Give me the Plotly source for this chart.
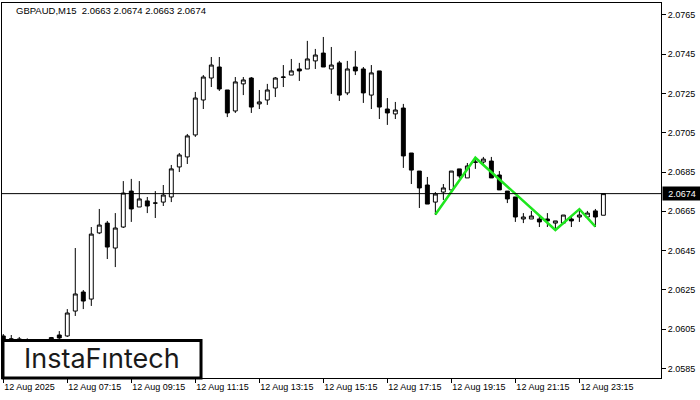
import pandas as pd
import plotly.graph_objects as go

symbol_title = "GBPAUD,M15  2.0663 2.0674 2.0663 2.0674"
start_time = "2025-08-12 05:15"

opens = [2.06015, 2.06000, 2.06000, 2.05995, 2.05990, 2.05985, 2.05994, 2.06020, 2.06015, 2.06142,
         2.06239, 2.06203, 2.06540, 2.06590, 2.06463, 2.06570, 2.06753, 2.06672, 2.06703, 2.06692,
         2.06697, 2.06723, 2.06876, 2.06927, 2.07039, 2.07217, 2.07329, 2.07385, 2.07268, 2.07161,
         2.07299, 2.07329, 2.07197, 2.07217, 2.07278, 2.07332, 2.07344, 2.07375, 2.07375, 2.07416,
         2.07456, 2.07375, 2.07406, 2.07253, 2.07385, 2.07375, 2.07242, 2.07365, 2.07171, 2.07146,
         2.07176, 2.06947, 2.06855, 2.06784, 2.06697, 2.06748, 2.06759, 2.06866, 2.06820, 2.06899,
         2.06901, 2.06906, 2.06835, 2.06753, 2.06723, 2.06611, 2.06611, 2.06611, 2.06611, 2.06590,
         2.06590, 2.06611, 2.06621, 2.06621, 2.06652, 2.0663]
highs = [2.06025, 2.06020, 2.06010, 2.06003, 2.05998, 2.05995, 2.06010, 2.06040, 2.06152, 2.06463,
         2.06249, 2.06570, 2.06662, 2.06601, 2.06641, 2.06804, 2.06815, 2.06804, 2.06723, 2.06753,
         2.06784, 2.06886, 2.06947, 2.07044, 2.07258, 2.07344, 2.07436, 2.07436, 2.07268, 2.07334,
         2.07334, 2.07334, 2.07268, 2.07299, 2.07334, 2.07395, 2.07426, 2.07406, 2.07518, 2.07477,
         2.07538, 2.07487, 2.07416, 2.07416, 2.07467, 2.07385, 2.07395, 2.07365, 2.07227, 2.07207,
         2.07197, 2.06947, 2.06855, 2.06825, 2.06748, 2.06789, 2.06855, 2.06866, 2.06896, 2.06922,
         2.06927, 2.06927, 2.06855, 2.06753, 2.06723, 2.06641, 2.06652, 2.06631, 2.06641, 2.06601,
         2.06631, 2.06621, 2.06652, 2.06652, 2.06662, 2.0674]
lows = [2.05989, 2.05989, 2.05989, 2.05980, 2.05978, 2.05975, 2.05989, 2.05994, 2.06010, 2.06117,
        2.06152, 2.06168, 2.06534, 2.06407, 2.06366, 2.06565, 2.06596, 2.06672, 2.06641, 2.06616,
        2.06677, 2.06697, 2.06850, 2.06891, 2.07029, 2.07171, 2.07283, 2.07263, 2.07130, 2.07151,
        2.07242, 2.07151, 2.07171, 2.07192, 2.07232, 2.07283, 2.07344, 2.07314, 2.07375, 2.07375,
        2.07385, 2.07248, 2.07212, 2.07242, 2.07344, 2.07202, 2.07171, 2.07120, 2.07090, 2.07120,
        2.06871, 2.06789, 2.06667, 2.06687, 2.06631, 2.06708, 2.06759, 2.06820, 2.06820, 2.06866,
        2.06881, 2.06820, 2.06759, 2.06692, 2.06596, 2.06590, 2.06611, 2.06570, 2.06570, 2.06560,
        2.06585, 2.06570, 2.06596, 2.06616, 2.06570, 2.0663]
closes = [2.05994, 2.05999, 2.05997, 2.05990, 2.05985, 2.05992, 2.06007, 2.06005, 2.06132, 2.06229,
          2.06193, 2.06534, 2.06580, 2.06468, 2.06565, 2.06743, 2.06662, 2.06713, 2.06677, 2.06692,
          2.06733, 2.06866, 2.06937, 2.07034, 2.07227, 2.07334, 2.07395, 2.07273, 2.07151, 2.07309,
          2.07319, 2.07181, 2.07207, 2.07268, 2.07329, 2.07334, 2.07365, 2.07365, 2.07426, 2.07446,
          2.07385, 2.07395, 2.07242, 2.07375, 2.07365, 2.07253, 2.07355, 2.07181, 2.07151, 2.07166,
          2.06932, 2.06860, 2.06769, 2.06687, 2.06738, 2.06769, 2.06855, 2.06830, 2.06881, 2.06901,
          2.06916, 2.06820, 2.06759, 2.06713, 2.06621, 2.06621, 2.06626, 2.06596, 2.06601, 2.06601,
          2.06631, 2.06601, 2.06631, 2.06641, 2.06621, 2.0674]

# pattern (green zigzag): bar indices and prices
pattern_bars = [54, 59, 69, 72, 74]
pattern_prices = [2.06634, 2.06923, 2.06555, 2.06661, 2.06572]

current_price = 2.0674
y_ticks = [2.0585, 2.0605, 2.0625, 2.0645, 2.0665, 2.0685, 2.0705, 2.0725, 2.0745, 2.0765]
x_tick_bars = [0, 8, 16, 24, 32, 40, 48, 56, 64, 72]
x_tick_labels = ["12 Aug 2025", "12 Aug 07:15", "12 Aug 09:15", "12 Aug 11:15", "12 Aug 13:15",
                 "12 Aug 15:15", "12 Aug 17:15", "12 Aug 19:15", "12 Aug 21:15", "12 Aug 23:15"]

times = pd.date_range(start_time, periods=len(opens), freq="15min")
bar = pd.Timedelta(minutes=15)
t0 = times[0]

fig = go.Figure()
fig.add_trace(go.Candlestick(
    x=times, open=opens, high=highs, low=lows, close=closes,
    increasing=dict(line=dict(color="black", width=1), fillcolor="white"),
    decreasing=dict(line=dict(color="black", width=1), fillcolor="black"),
    whiskerwidth=0, showlegend=False, hoverinfo="skip",
))
fig.add_trace(go.Scatter(
    x=[times[i] for i in pattern_bars], y=pattern_prices, mode="lines",
    line=dict(color="#1ee61e", width=2.5), showlegend=False, hoverinfo="skip",
))

fig.add_hline(y=current_price, line=dict(color="black", width=1))

font_axis = dict(family="Liberation Sans, Arial, sans-serif", size=9, color="black")
fig.update_layout(
    width=700, height=400,
    margin=dict(l=2, r=39, t=3, b=22),
    paper_bgcolor="white", plot_bgcolor="white",
    font=font_axis,
    hovermode=False,
    xaxis=dict(
        type="date",
        range=[t0 - 0.16 * bar, t0 + 82.2 * bar],
        rangeslider=dict(visible=False),
        showgrid=False, zeroline=False,
        showline=True, mirror=True, linecolor="black", linewidth=1,
        ticks="outside", ticklen=4, tickcolor="black",
        tickvals=[times[i] for i in x_tick_bars], ticktext=x_tick_labels,
        ticklabelposition="outside right",
        tickfont=font_axis,
    ),
    yaxis=dict(
        side="right",
        range=[2.05801, 2.07711],
        showgrid=False, zeroline=False,
        showline=True, mirror=True, linecolor="black", linewidth=1,
        ticks="outside", ticklen=4, tickcolor="black",
        tickvals=y_ticks, tickformat=".4f",
        tickfont=font_axis,
    ),
)

fig.add_annotation(
    xref="paper", yref="y", x=1, y=current_price, xanchor="left", yanchor="middle",
    text=f"{current_price:.4f}", showarrow=False, xshift=1,
    width=36, height=11, align="center",
    bgcolor="black", font=dict(family="Liberation Sans, Arial, sans-serif", size=9, color="white"),
    borderpad=1,
)
fig.add_annotation(
    xref="paper", yref="paper", x=0.018, y=0.981, xanchor="left", yanchor="middle",
    text=symbol_title, showarrow=False,
    font=dict(family="Liberation Sans, Arial, sans-serif", size=9.5, color="black"),
)

# logo box
fig.add_shape(type="rect", xref="paper", yref="paper", x0=0.0015, x1=0.302, y0=0.0, y1=0.1,
              line=dict(color="black", width=3), fillcolor="white", layer="above")
fig.add_annotation(
    xref="paper", yref="paper", x=0.151, y=0.052, xanchor="center", yanchor="middle",
    text="InstaFıntech", showarrow=False,
    font=dict(family="Inter, Lato, sans-serif", size=27, color="#1a1a1a"),
)

fig.write_html("out.html", config={"displayModeBar": False},
               post_script="document.body.style.margin='0px';")
